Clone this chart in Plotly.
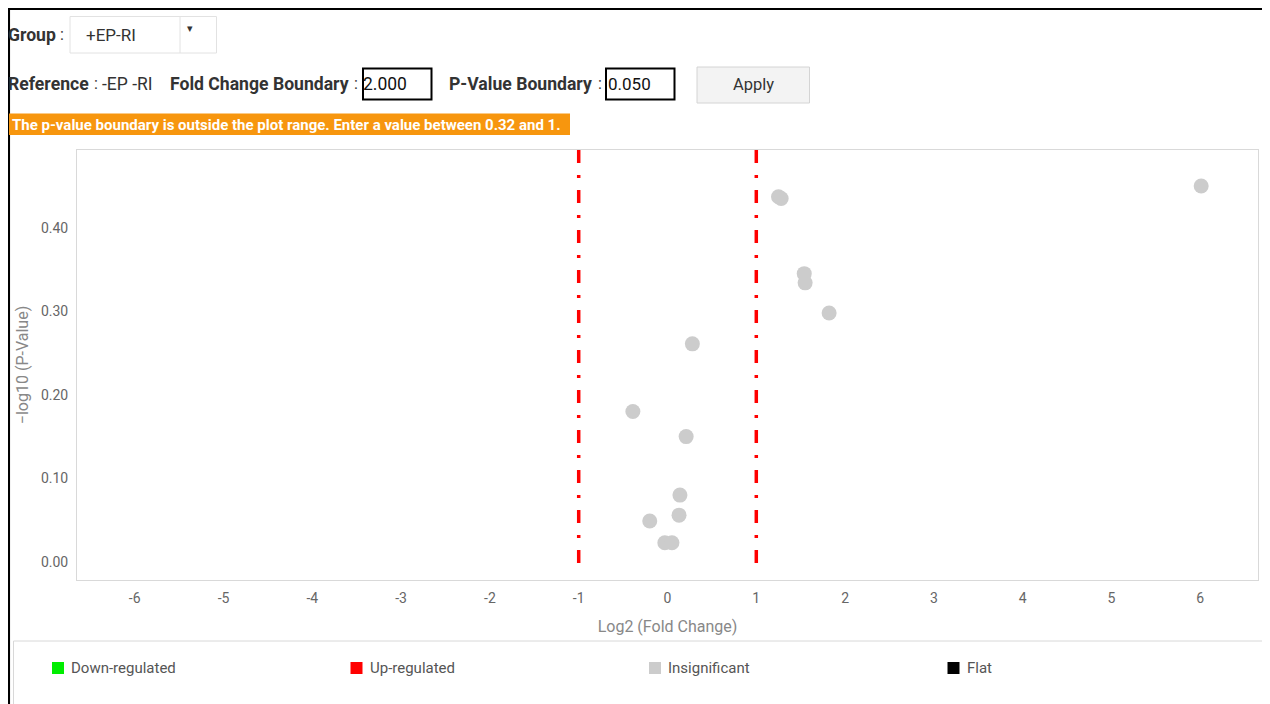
import plotly.graph_objects as go

# ---------------- data ----------------
log2_fc = [6.01, 1.25, 1.28, 1.54, 1.55, 1.82, 0.28, -0.39, 0.21, 0.14, 0.13, -0.20, -0.03, 0.05]
neg_log10_p = [0.450, 0.437, 0.435, 0.345, 0.334, 0.298, 0.261, 0.180, 0.150, 0.080, 0.056, 0.049, 0.023, 0.023]
fc_boundaries = [-1, 1]
x_ticks = [-6, -5, -4, -3, -2, -1, 0, 1, 2, 3, 4, 5, 6]
y_ticks = [0.0, 0.1, 0.2, 0.3, 0.4]
legend_labels = ["Down-regulated", "Up-regulated", "Insignificant", "Flat"]
legend_colors = ["#00ee00", "#ff0000", "#cccccc", "#000000"]

# ---------------- geometry helpers (screen pixel -> paper) ----------------
OFF = 8  # page body margin
W_FIG, H_FIG = 1270 - OFF, 704 - OFF
L, R, T, B = 77, 1258, 150, 580  # plot area in screen pixels
PW, PH = R - L, B - T


def px(x):
    return (x - L) / PW


def py(y):
    return (B - y) / PH


FONT = "Roboto"
BOLD = 17.6

fig = go.Figure()
fig.add_trace(go.Scatter(
    x=log2_fc, y=neg_log10_p, mode="markers",
    marker=dict(size=15, color="#cccccc", line=dict(width=0)),
    showlegend=False, hoverinfo="x+y",
))

shapes = []
annotations = []

# fold-change boundary lines
for b in fc_boundaries:
    shapes.append(dict(type="line", xref="x", yref="y", x0=b, x1=b, y0=0.493, y1=-0.006,
                       line=dict(color="#ff0000", width=3.5, dash="13px,12px,3px,12px")))

# outer frame (black)
shapes.append(dict(type="line", xref="paper", yref="paper", x0=px(8), x1=px(1272), y0=py(8.8), y1=py(8.8),
                   line=dict(color="#000000", width=2.5)))
shapes.append(dict(type="line", xref="paper", yref="paper", x0=px(8.8), x1=px(8.8), y0=py(8), y1=py(706),
                   line=dict(color="#000000", width=2.5)))

# Group dropdown
shapes.append(dict(type="rect", xref="paper", yref="paper", x0=px(70), x1=px(216.5), y0=py(16.5), y1=py(53),
                   line=dict(color="#e2e2e2", width=1), fillcolor="#ffffff"))
shapes.append(dict(type="line", xref="paper", yref="paper", x0=px(180), x1=px(180), y0=py(17), y1=py(53),
                   line=dict(color="#e2e2e2", width=1)))


def text(x, y, s, size=16, color="#333333", xanchor="left"):
    annotations.append(dict(xref="paper", yref="paper", x=px(x), y=py(y), text=s, showarrow=False,
                            xanchor=xanchor, yanchor="middle", align="left", borderpad=0,
                            font=dict(family=FONT, size=size, color=color)))


text(7, 35, "<b>Group</b>", BOLD)
text(59, 35, ":", 16)
text(85, 35, "+EP-RI", 17)
text(186, 29, "▾", 11, "#333333")

# Row 2
text(7, 84, "<b>Reference</b>", BOLD)
text(93, 84, ":", 16)
text(101, 84, "-EP -RI", 17.5)
text(169, 84, "<b>Fold Change Boundary</b>", BOLD)
text(353, 84, ":", 16)
shapes.append(dict(type="rect", xref="paper", yref="paper", x0=px(363), x1=px(431.5), y0=py(68.5), y1=py(99.5),
                   line=dict(color="#000000", width=2), fillcolor="#ffffff"))
text(362, 84, "2.000", 17.5, "#111111")
text(448, 84, "<b>P-Value Boundary</b>", BOLD)
text(597, 84, ":", 16)
shapes.append(dict(type="rect", xref="paper", yref="paper", x0=px(606), x1=px(674.5), y0=py(68.5), y1=py(99.5),
                   line=dict(color="#000000", width=2), fillcolor="#ffffff"))
text(607, 84, "0.050", 17, "#111111")
# Apply button
shapes.append(dict(type="rect", xref="paper", yref="paper", x0=px(697), x1=px(809.5), y0=py(67), y1=py(103),
                   line=dict(color="#d4d4d4", width=1), fillcolor="#f3f3f3"))
text(753, 85, "Apply", 16.5, "#333333", xanchor="center")

# Orange warning banner
shapes.append(dict(type="rect", xref="paper", yref="paper", x0=px(9), x1=px(570), y0=py(113.5), y1=py(135),
                   line=dict(color="#f7960e", width=0), fillcolor="#f7960e"))
text(11, 124.5, "<b>The p-value boundary is outside the plot range. Enter a value between 0.32 and 1.</b>",
     15, "#ffffff")

# Legend box
shapes.append(dict(type="rect", xref="paper", yref="paper", x0=px(13.5), x1=px(1267), y0=py(641), y1=py(710),
                   line=dict(color="#d8d8d8", width=1), fillcolor="rgba(0,0,0,0)"))
for i, (lab, col) in enumerate(zip(legend_labels, legend_colors)):
    x0 = 52 + i * 298.5
    shapes.append(dict(type="rect", xref="paper", yref="paper", x0=px(x0), x1=px(x0 + 12), y0=py(662), y1=py(674),
                       line=dict(width=0), fillcolor=col))
    text(x0 + 18, 668, lab, 15, "#555555")

fig.update_layout(
    width=W_FIG, height=H_FIG,
    margin=dict(l=L - OFF, r=W_FIG - (R - OFF), t=T - OFF, b=H_FIG - (B - OFF), autoexpand=False),
    paper_bgcolor="#ffffff", plot_bgcolor="#ffffff",
    showlegend=False,
    font=dict(family=FONT, color="#666666"),
    shapes=shapes, annotations=annotations,
    xaxis=dict(range=[-6.65, 6.65], tickvals=x_ticks, ticktext=[str(v) for v in x_ticks],
               showgrid=False, zeroline=False, showline=True, mirror=True, linecolor="#d9d9d9", linewidth=1,
               ticks="", ticklabelstandoff=5, tickfont=dict(family=FONT, size=14, color="#666666"),
               title=dict(text="Log2 (Fold Change)", font=dict(family=FONT, size=16, color="#888888"), standoff=16)),
    yaxis=dict(range=[-0.0216, 0.493], tickvals=y_ticks, ticktext=[f"{v:.2f}" for v in y_ticks],
               showgrid=False, zeroline=False, showline=True, mirror=True, linecolor="#d9d9d9", linewidth=1,
               ticks="", ticklabelstandoff=5, tickfont=dict(family=FONT, size=14, color="#666666"),
               title=dict(text="−log10 (P-Value)", font=dict(family=FONT, size=16, color="#888888"), standoff=8)),
)

fig.write_html("out.html")
